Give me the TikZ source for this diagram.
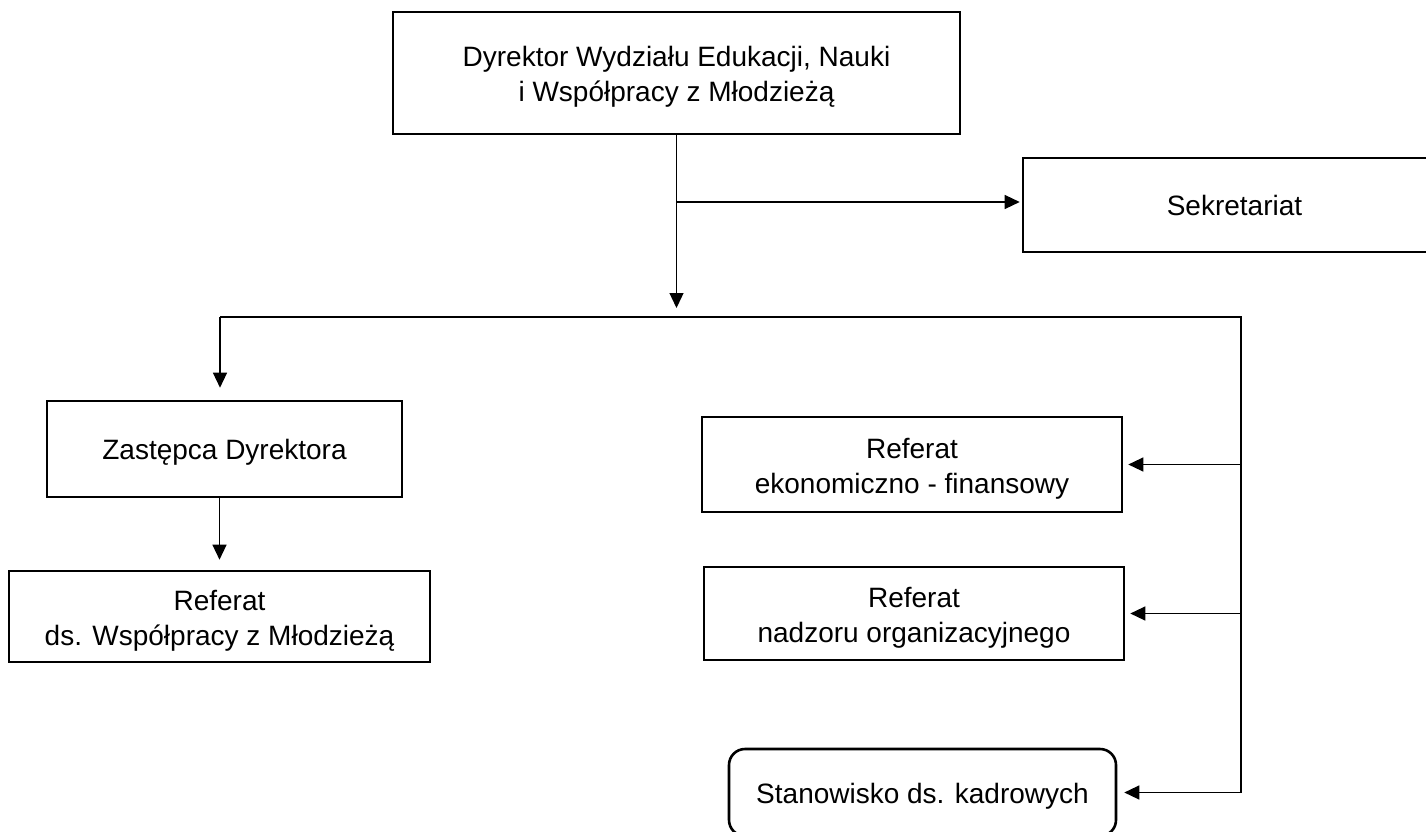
\documentclass[tikz,border=0pt]{standalone}
\usepackage{fontspec}
\setmainfont{Liberation Sans}
\usetikzlibrary{arrows.meta, positioning}

\begin{document}
\begin{tikzpicture}[x=1pt, y=-1pt, >={Triangle[length=15pt, width=14pt]},
  unit/.style={draw, line width=2.6pt, align=center, inner sep=0pt,
    font=\fontsize{28}{35}\selectfont, text height=21pt, text depth=0pt},
  twoline/.style={text height=57pt, text depth=0pt},
  link/.style={line width=1.3pt}]
  \useasboundingbox (0,0) rectangle (1426,832);
  \node[unit, twoline, minimum width=567pt, minimum height=122pt] (dyr) at (676.5,73)
    {Dyrektor Wydziału Edukacji, Nauki\\i Współpracy z Młodzieżą};
  \node[unit, minimum width=423pt, minimum height=94pt] (sek) at (1234.5,205) {Sekretariat};
  \node[unit, minimum width=355pt, minimum height=96pt] (zast) at (224.5,449) {Zastępca Dyrektora};
  \node[unit, twoline, minimum width=421pt, minimum height=91pt] (refm) at (219.5,616.5)
    {Referat\\ds. Współpracy z Młodzieżą};
  \node[unit, twoline, minimum width=420pt, minimum height=95pt] (ekon) at (912,464.5)
    {Referat\\ekonomiczno - finansowy};
  \node[unit, twoline, minimum width=420pt, minimum height=93pt] (nadz) at (914,613.5)
    {Referat\\nadzoru organizacyjnego};
  \node[unit, rounded corners=16pt, minimum width=387pt, minimum height=87pt] (stan) at (922.5,792.5)
    {Stanowisko ds. kadrowych};
  \coordinate (dn) at (676.5,308);
  \coordinate (sk) at (676.5,202);
  \coordinate (lb) at (220,317);
  \coordinate (rb) at (1241,317);
  \draw[link, ->] (dyr.south) -- (dn);
  \draw[link, ->, shorten >=2pt] (sk) -- (sk -| sek.west);
  \draw[link] (lb) -- (rb) -- (rb |- stan.east);
  \draw[link, ->, shorten >=12pt] (lb) -- (lb |- zast.north);
  \draw[link, ->, shorten >=10pt] (zast.south -| refm.north) -- (refm.north);
  \draw[link, ->, shorten >=5pt] (rb |- ekon.east) -- (ekon.east);
  \draw[link, ->, shorten >=5pt] (rb |- nadz.east) -- (nadz.east);
  \draw[link, ->, shorten >=7pt] (rb |- stan.east) -- (stan.east);
\end{tikzpicture}
\end{document}
